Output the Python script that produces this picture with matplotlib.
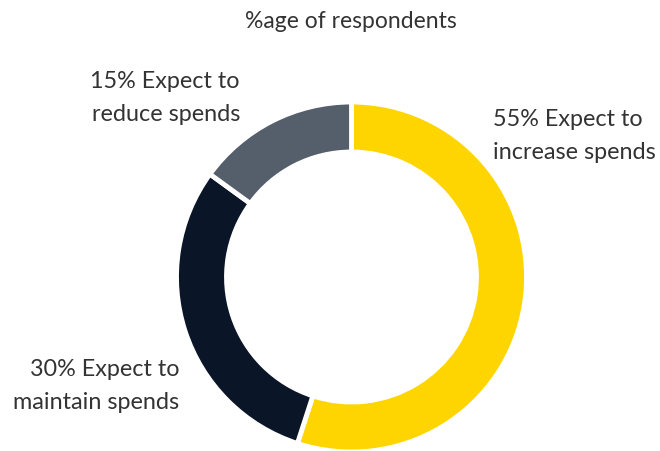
import matplotlib.pyplot as plt

# Survey split of spending intentions
labels = ['55% Expect to\nincrease spends', '30% Expect to\nmaintain spends', '15% Expect to\nreduce spends']
shares = [55, 30, 15]
colors = ['#FFD500', '#0A1527', '#555F6B']
title = '%age of respondents'

plt.rcParams['font.family'] = ['Lato', 'DejaVu Sans']
text_color = '#333333'

fig = plt.figure(figsize=(6.6, 4.51), dpi=100)
ax = fig.add_axes([0, 0, 1, 1])

outer_r = 175
ring_w = 50
ax.pie(shares, colors=colors, startangle=90, counterclock=False,
       center=(351.5, 174), radius=outer_r,
       wedgeprops=dict(width=ring_w, edgecolor='white', linewidth=3.5),
       frame=True)
ax.set_xlim(0, 660)
ax.set_ylim(0, 451)
ax.set_aspect('equal')
ax.axis('off')

fs = 16.8
ax.text(351, 451 - 22, title, ha='center', va='center', fontsize=16.5, color=text_color)
ax.text(493, 451 - 136, labels[0], ha='left', va='center', fontsize=fs,
        color=text_color, linespacing=1.7)
ax.text(179, 451 - 386, labels[1], ha='right', va='center', fontsize=fs,
        color=text_color, linespacing=1.7)
ax.text(240, 451 - 98, labels[2], ha='right', va='center', fontsize=fs,
        color=text_color, linespacing=1.7)

fig.savefig('out.png', dpi=100)
